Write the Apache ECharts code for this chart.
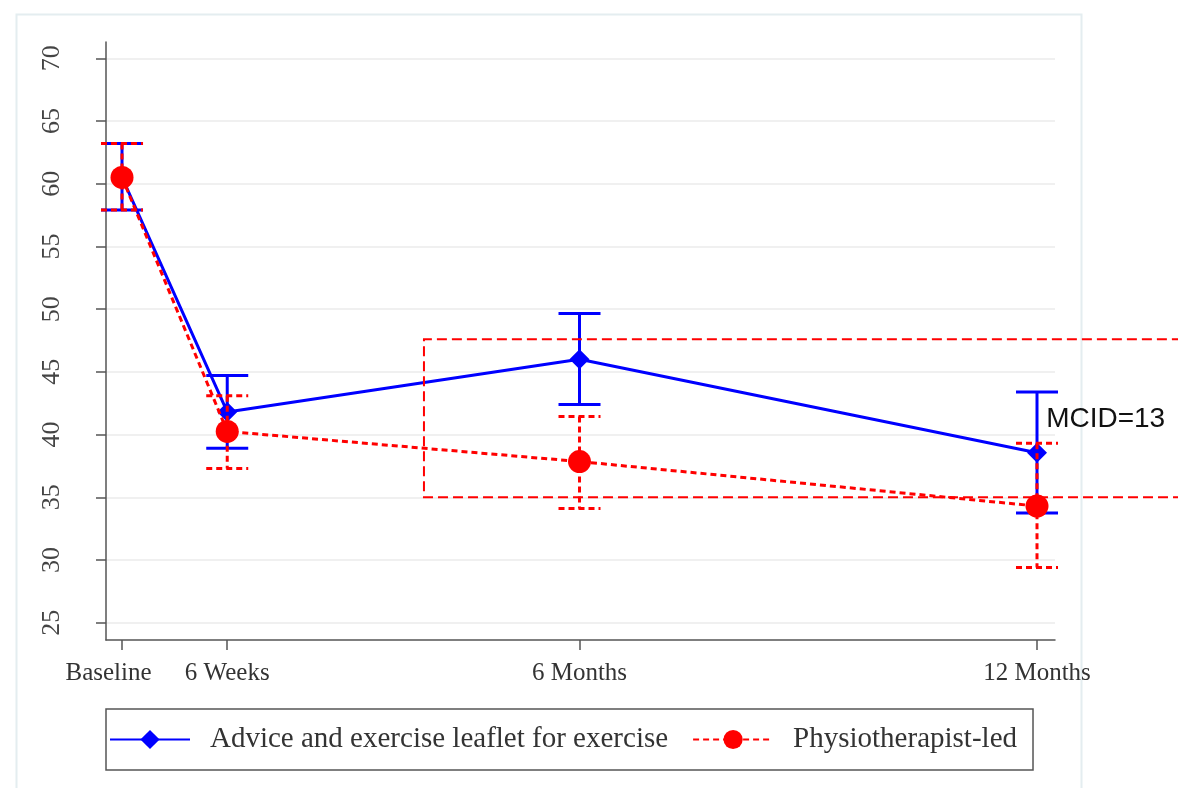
<!DOCTYPE html>
<html>
<head>
<meta charset="utf-8">
<script src="https://cdn.jsdelivr.net/npm/echarts@6/dist/echarts.min.js"></script>
<style>html,body{margin:0;padding:0;background:#fff;}#chart{width:1178px;height:788px;}</style>
</head>
<body>
<div id="chart"></div>
<script>
// time points (months since baseline) and their tick labels
const timeLabels = ['Baseline', '6 Weeks', '6 Months', '12 Months'];
const timeMonths = [0, 1.38, 6, 12];
const yTicks = [25, 30, 35, 40, 45, 50, 55, 60, 65, 70];

// Advice and exercise leaflet for exercise
const adviceMean = [60.5, 41.8, 46.0, 38.55];
const adviceLow  = [57.9, 38.9, 42.4, 33.75];
const adviceHigh = [63.2, 44.7, 49.65, 43.4];

// Physiotherapist-led
const physioMean = [60.5, 40.25, 37.85, 34.3];
const physioLow  = [57.9, 37.3, 34.1, 29.4];
const physioHigh = [63.2, 43.1, 41.45, 39.3];

// MCID band (x start/end in months, low/high value) and label
const mcidX = [3.96, 13.9];
const mcidY = [35.0, 47.6];
const mcidText = 'MCID=13';
const mcidLabelAt = [12.12, 41.2];

const BLUE = '#0000ff', RED = '#ff0000';
const serif = '"Liberation Serif", "Times New Roman", serif';

function errorBars(low, high, color, dash) {
  return {
    type: 'custom',
    name: color === BLUE ? 'adviceCI' : 'physioCI',
    data: timeMonths.map((t, i) => [t, low[i], high[i]]),
    encode: { x: 0, y: [1, 2] },
    z: color === BLUE ? 2 : 4,
    renderItem: function (params, api) {
      const x = api.value(0);
      const pLo = api.coord([x, api.value(1)]);
      const pHi = api.coord([x, api.value(2)]);
      const hw = 21;
      const st = { stroke: color, lineWidth: 3, lineDash: dash };
      return {
        type: 'group',
        children: [
          { type: 'line', shape: { x1: pHi[0], y1: pHi[1], x2: pLo[0], y2: pLo[1] }, style: st },
          { type: 'line', shape: { x1: pHi[0] - hw, y1: pHi[1], x2: pHi[0] + hw, y2: pHi[1] }, style: st },
          { type: 'line', shape: { x1: pLo[0] - hw, y1: pLo[1], x2: pLo[0] + hw, y2: pLo[1] }, style: st }
        ]
      };
    }
  };
}

const chart = echarts.init(document.getElementById('chart'), null, { renderer: 'canvas' });
chart.setOption({
  animation: false,
  backgroundColor: '#ffffff',
  graphic: [{
    type: 'rect', left: 14, top: 12, z: -10, silent: true,
    shape: { width: 1065, height: 775 },
    style: { fill: 'none', stroke: '#e4edf0', lineWidth: 2 }
  }],
  grid: { left: 106, right: 123, top: 42, bottom: 148, containLabel: false },
  xAxis: {
    type: 'value', min: -0.21, max: 12.236,
    axisLine: { show: true, onZero: false, lineStyle: { color: '#555', width: 1.5 } },
    axisTick: { show: true, length: 10, customValues: timeMonths, lineStyle: { color: '#555', width: 1.5 } },
    axisLabel: {
      customValues: timeMonths, margin: 21,
      formatter: v => {
        const i = timeMonths.indexOf(v);
        if (i < 0) return '';
        return i === 0 ? '{first|' + timeLabels[i] + '}' : timeLabels[i];
      },
      rich: { first: { fontFamily: serif, fontSize: 25, color: '#333', padding: [0, 27, 0, 0] } },
      fontFamily: serif, fontSize: 25, color: '#333'
    },
    splitLine: { show: false }
  },
  yAxis: {
    type: 'value', min: 23.62, max: 71.3,
    axisLine: { show: true, onZero: false, lineStyle: { color: '#555', width: 1.5 } },
    axisTick: { show: true, length: 10, customValues: yTicks, lineStyle: { color: '#555', width: 1.5 } },
    axisLabel: {
      customValues: yTicks, rotate: 90, margin: 41,
      fontFamily: serif, fontSize: 26, color: '#444'
    },
    splitLine: { show: true, lineStyle: { color: '#f0f0f0', width: 2 } }
  },
  legend: {
    data: ['Advice and exercise leaflet for exercise', 'Physiotherapist-led'],
    left: 106, top: 709,
    padding: [16, 16, 16, 3],
    borderColor: '#555', borderWidth: 1.5,
    itemWidth: 80, itemHeight: 24, itemGap: 24,
    textStyle: { fontFamily: serif, fontSize: 29, color: '#333', padding: [0, 0, 0, 15] }
  },
  series: [
    errorBars(adviceLow, adviceHigh, BLUE, null),
    {
      type: 'line', name: 'Advice and exercise leaflet for exercise',
      data: timeMonths.map((t, i) => [t, adviceMean[i]]),
      symbol: 'diamond', symbolSize: 20, z: 3,
      lineStyle: { color: BLUE, width: 3 },
      itemStyle: { color: BLUE }
    },
    errorBars(physioLow, physioHigh, RED, [6, 4]),
    {
      type: 'line', name: 'Physiotherapist-led',
      data: timeMonths.map((t, i) => [t, physioMean[i]]),
      symbol: 'circle', symbolSize: 23, z: 5,
      lineStyle: { color: RED, width: 3, type: [6, 4] },
      itemStyle: { color: RED }
    },
    {
      type: 'custom', name: 'mcid', clip: false, z: 6,
      data: [[mcidX[0], mcidY[0], mcidX[1], mcidY[1]]],
      encode: { x: [0, 2], y: [1, 3] },
      renderItem: function (params, api) {
        const x0 = api.value(0), y0 = api.value(1), x1 = api.value(2), y1 = api.value(3);
        const a = api.coord([x1, y1]), b = api.coord([x0, y1]), c = api.coord([x0, y0]), d = api.coord([x1, y0]);
        const lp = api.coord(mcidLabelAt);
        return {
          type: 'group',
          children: [
            { type: 'polyline', shape: { points: [a, b, c, d] },
              style: { stroke: RED, lineWidth: 2, lineDash: [10, 5], fill: null } },
            { type: 'text', x: lp[0], y: lp[1],
              style: { text: mcidText, fill: '#111', font: '28px "Liberation Sans", Arial, sans-serif',
                       textAlign: 'left', textVerticalAlign: 'middle' } }
          ]
        };
      }
    }
  ]
});
</script>
</body>
</html>
